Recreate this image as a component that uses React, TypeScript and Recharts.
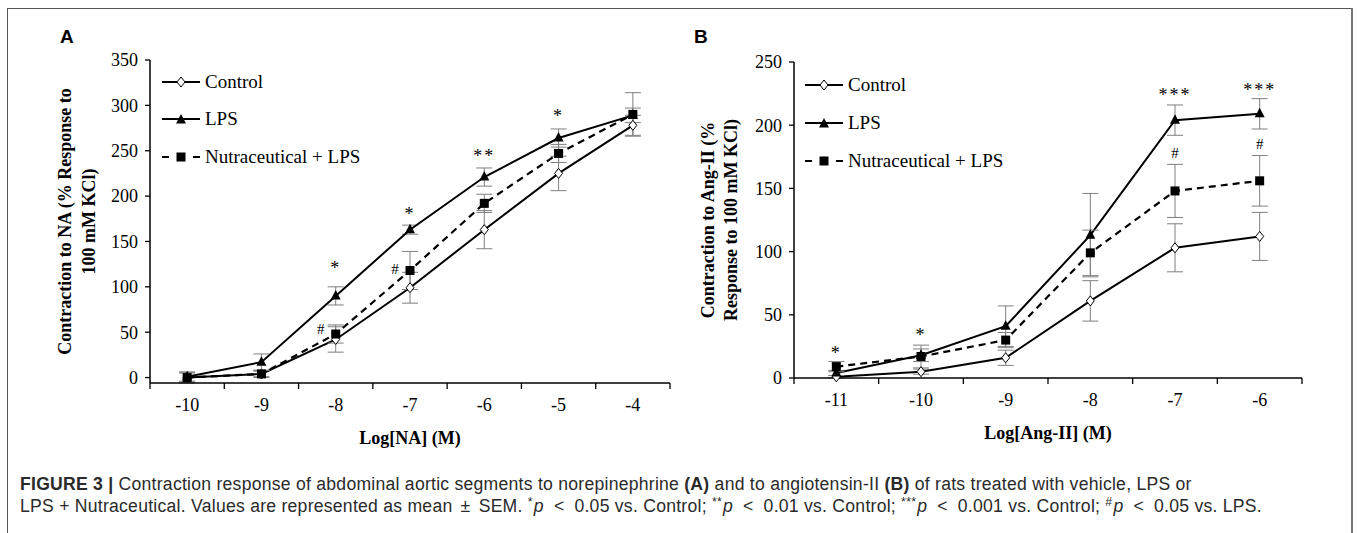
import React from 'react';
import { LineChart, Line, XAxis, YAxis, ErrorBar, ReferenceDot } from 'recharts';

const SERIF = '"Liberation Serif", "Times New Roman", serif';
const SANS = '"Liberation Sans", Arial, sans-serif';

// Panel A: noradrenaline
const naDoses = [-10, -9, -8, -7, -6, -5, -4];
const naControl = [0, 4, 42, 99, 163, 225, 278];
const naControlErr = [5, 3, 14, 17, 21, 19, 11];
const naLps = [1, 17, 90, 163, 221, 264, 289];
const naLpsErr = [5, 9, 10, 5, 10, 10, 8];
const naNutra = [0, 4, 48, 118, 192, 247, 290];
const naNutraErr = [6, 4, 10, 21, 10, 10, 24];
const naTicks = [0, 50, 100, 150, 200, 250, 300, 350];
const naMarks = [
  { x: -8, y: 124, text: '*', side: 'center' },
  { x: -7, y: 184, text: '*', side: 'center' },
  { x: -6, y: 247, text: '**', side: 'center' },
  { x: -5, y: 292, text: '*', side: 'center' },
  { x: -8, y: 53, text: '#', side: 'left' },
  { x: -7, y: 120, text: '#', side: 'left' },
];

// Panel B: angiotensin II
const angDoses = [-11, -10, -9, -8, -7, -6];
const angControl = [1, 5, 16, 61, 103, 112];
const angControlErr = [1, 2, 6, 16, 19, 19];
const angLps = [4, 18, 41, 113, 204, 209];
const angLpsErr = [2, 5, 16, 33, 12, 12];
const angNutra = [9, 17, 30, 99, 148, 156];
const angNutraErr = [4, 9, 6, 18, 21, 20];
const angTicks = [0, 50, 100, 150, 200, 250];
const angMarks = [
  { x: -11, y: 22, text: '*', side: 'center' },
  { x: -10, y: 36, text: '*', side: 'center' },
  { x: -7, y: 226, text: '***', side: 'center' },
  { x: -6, y: 230, text: '***', side: 'center' },
  { x: -7, y: 178, text: '#', side: 'center' },
  { x: -6, y: 185, text: '#', side: 'center' },
];

const legendNames = ['Control', 'LPS', 'Nutraceutical + LPS'];

function buildRows(doses, c, ce, l, le, n, ne) {
  return doses.map((d, i) => ({
    dose: d,
    control: c[i],
    controlErr: ce[i],
    lps: l[i],
    lpsErr: le[i],
    nutra: n[i],
    nutraErr: ne[i],
  }));
}

const naRows = buildRows(naDoses, naControl, naControlErr, naLps, naLpsErr, naNutra, naNutraErr);
const angRows = buildRows(angDoses, angControl, angControlErr, angLps, angLpsErr, angNutra, angNutraErr);

// category centres for labels, category edges for tick marks
function catTicks(doses) {
  const t = [];
  doses.forEach((d) => {
    t.push(d - 0.5);
    t.push(d);
  });
  t.push(doses[doses.length - 1] + 0.5);
  return t;
}

const Diamond = (p: any) => {
  const { cx, cy } = p;
  if (cx == null || cy == null) return null;
  return (
    <path
      d={`M${cx},${cy - 5}L${cx + 4},${cy}L${cx},${cy + 5}L${cx - 4},${cy}Z`}
      fill="#fff"
      stroke="#000"
      strokeWidth={1}
    />
  );
};

const Triangle = (p: any) => {
  const { cx, cy } = p;
  if (cx == null || cy == null) return null;
  return <path d={`M${cx},${cy - 6}L${cx + 5},${cy + 3.5}L${cx - 5},${cy + 3.5}Z`} fill="#000" />;
};

const Square = (p: any) => {
  const { cx, cy } = p;
  if (cx == null || cy == null) return null;
  return <rect x={cx - 4.5} y={cy - 4.5} width={9} height={9} fill="#000" />;
};

const CatTick = (props: any) => {
  const { x, y, payload } = props;
  const v = payload.value;
  if (Number.isInteger(v)) {
    return (
      <text x={x} y={y + 28} textAnchor="middle" fontFamily={SERIF} fontSize={18} fill="#000">
        {String(v)}
      </text>
    );
  }
  return <line x1={x} y1={y} x2={x} y2={y + 6} stroke="#000" strokeWidth={1.3} />;
};

const YTitle = (props: any) => {
  const { viewBox, lines, xs } = props;
  const cy = viewBox.y + viewBox.height / 2;
  return (
    <g>
      {lines.map((t, i) => (
        <text
          key={i}
          transform={`translate(${xs[i]},${cy}) rotate(-90)`}
          textAnchor="middle"
          dominantBaseline="central"
          fontFamily={SERIF}
          fontWeight="bold"
          fontSize={18}
          fill="#000"
        >
          {t}
        </text>
      ))}
    </g>
  );
};

const XTitle = (props: any) => {
  const { viewBox, text } = props;
  return (
    <text
      x={viewBox.x + viewBox.width / 2}
      y={viewBox.y + 61}
      textAnchor="middle"
      fontFamily={SERIF}
      fontWeight="bold"
      fontSize={18}
      fill="#000"
    >
      {text}
    </text>
  );
};

function markShape(m) {
  return (p: any) => {
    const dx = m.side === 'left' ? -15 : 0;
    const isStar = m.text.indexOf('*') >= 0;
    return (
      <text
        x={p.cx + dx}
        y={p.cy + (isStar ? 9 : 5)}
        textAnchor="middle"
        fontFamily={SERIF}
        fontSize={isStar ? 18 : 15}
        letterSpacing={isStar ? 2 : 0}
        fill="#000"
      >
        {m.text}
      </text>
    );
  };
}

const errStyle = { width: 8, stroke: '#7f7f7f', strokeWidth: 1 };

function Panel({ rows, doses, yMax, yTicks, marks, margin, yWidth, titleLines, titleXs, xTitle }) {
  const lo = doses[0] - 0.5;
  const hi = doses[doses.length - 1] + 0.5;
  return (
    <LineChart width={700} height={460} data={rows} margin={margin}>
      <XAxis
        dataKey="dose"
        type="number"
        domain={[lo, hi]}
        ticks={catTicks(doses)}
        interval={0}
        tick={<CatTick />}
        tickLine={false}
        tickSize={0}
        tickMargin={0}
        height={60}
        axisLine={{ stroke: '#000', strokeWidth: 1.5 }}
        label={<XTitle text={xTitle} />}
      />
      <YAxis
        type="number"
        domain={[0, yMax]}
        ticks={yTicks}
        interval={0}
        width={yWidth}
        tickSize={5}
        tickMargin={7}
        tick={{ fontFamily: SERIF, fontSize: 18, fill: '#000' }}
        tickLine={{ stroke: '#000', strokeWidth: 1.3 }}
        axisLine={{ stroke: '#000', strokeWidth: 1.5 }}
        label={<YTitle lines={titleLines} xs={titleXs} />}
      />
      <Line
        dataKey="control"
        stroke="#000"
        strokeWidth={2}
        dot={<Diamond />}
        activeDot={false}
        isAnimationActive={false}
      >
        <ErrorBar dataKey="controlErr" direction="y" isAnimationActive={false} {...errStyle} />
      </Line>
      <Line
        dataKey="lps"
        stroke="#000"
        strokeWidth={2}
        dot={<Triangle />}
        activeDot={false}
        isAnimationActive={false}
      >
        <ErrorBar dataKey="lpsErr" direction="y" isAnimationActive={false} {...errStyle} />
      </Line>
      <Line
        dataKey="nutra"
        stroke="#000"
        strokeWidth={2.2}
        strokeDasharray="7 5"
        dot={<Square />}
        activeDot={false}
        isAnimationActive={false}
      >
        <ErrorBar dataKey="nutraErr" direction="y" isAnimationActive={false} {...errStyle} />
      </Line>
      {marks.map((m, i) => (
        <ReferenceDot key={i} x={m.x} y={m.y} r={0} shape={markShape(m)} />
      ))}
    </LineChart>
  );
}

function LegendBox({ left, tops }) {
  const swatches = [
    <svg width={38} height={14} key="c">
      <line x1={0} y1={7} x2={38} y2={7} stroke="#000" strokeWidth={2} />
      <Diamond cx={19} cy={7} />
    </svg>,
    <svg width={38} height={14} key="l">
      <line x1={0} y1={7} x2={38} y2={7} stroke="#000" strokeWidth={2} />
      <Triangle cx={19} cy={8} />
    </svg>,
    <svg width={38} height={14} key="n">
      <line x1={0} y1={7} x2={7} y2={7} stroke="#000" strokeWidth={2} />
      <line x1={31} y1={7} x2={38} y2={7} stroke="#000" strokeWidth={2} />
      <Square cx={19} cy={7} />
    </svg>,
  ];
  return (
    <>
      {legendNames.map((name, i) => (
        <div
          key={name}
          style={{
            position: 'absolute',
            left,
            top: tops[i] - 12,
            height: 24,
            display: 'flex',
            alignItems: 'center',
            whiteSpace: 'nowrap',
            fontFamily: SERIF,
            fontSize: 19,
            color: '#000',
          }}
        >
          {swatches[i]}
          <span style={{ marginLeft: 5 }}>{name}</span>
        </div>
      ))}
    </>
  );
}

const supStyle: React.CSSProperties = { fontSize: '0.7em', position: 'relative', top: '-0.45em', marginRight: 1 };
const opStyle: React.CSSProperties = { margin: '0 10px' };

function PVal({ stars, cmp }) {
  return (
    <>
      <span style={supStyle}>{stars}</span>
      <i>p</i>
      <span style={opStyle}>&lt;</span>
      {cmp}
    </>
  );
}

export default function App() {
  return (
    <div style={{ position: 'absolute', left: 0, top: 0, width: 1358, height: 533, overflow: 'hidden', background: '#fff' }}>
      <div
        style={{
          position: 'absolute',
          left: 7,
          top: 8,
          width: 1346,
          height: 600,
          borderLeft: '1px solid #555',
          borderTop: '1px solid #555',
          borderRight: '2px solid #777',
          boxSizing: 'border-box',
        }}
      />
      <div style={{ position: 'absolute', left: 60, top: 26, fontFamily: SANS, fontWeight: 'bold', fontSize: 19 }}>A</div>
      <div style={{ position: 'absolute', left: 694, top: 26, fontFamily: SANS, fontWeight: 'bold', fontSize: 19 }}>B</div>
      <div style={{ position: 'absolute', left: 0, top: 0 }}>
        <Panel
          rows={naRows}
          doses={naDoses}
          yMax={350}
          yTicks={naTicks}
          marks={naMarks}
          margin={{ top: 60, right: 30, bottom: 17, left: 0 }}
          yWidth={150}
          titleLines={['Contraction to NA (% Response to', '100 mM KCl)']}
          titleXs={[65, 89]}
          xTitle="Log[NA] (M)"
        />
      </div>
      <div style={{ position: 'absolute', left: 650, top: 0 }}>
        <Panel
          rows={angRows}
          doses={angDoses}
          yMax={250}
          yTicks={angTicks}
          marks={angMarks}
          margin={{ top: 62, right: 48, bottom: 22, left: 0 }}
          yWidth={144}
          titleLines={['Contraction to Ang-II (%', 'Response to 100 mM KCl)']}
          titleXs={[58, 81]}
          xTitle="Log[Ang-II] (M)"
        />
      </div>
      <LegendBox left={162} tops={[82, 119, 157]} />
      <LegendBox left={805} tops={[85, 123, 161]} />
      <div
        style={{
          position: 'absolute',
          left: 20,
          top: 473,
          fontFamily: SANS,
          fontSize: 17.6,
          letterSpacing: 0.25,
          lineHeight: '22px',
          color: '#2a2a2a',
          whiteSpace: 'nowrap',
        }}
      >
        <div>
          <b>FIGURE 3 |</b> Contraction response of abdominal aortic segments to norepinephrine <b>(A)</b> and to
          angiotensin-II <b>(B)</b> of rats treated with vehicle, LPS or
        </div>
        <div>
          LPS + Nutraceutical. Values are represented as mean <span style={{ margin: '0 3px' }}>±</span> SEM.{' '}
          <PVal stars="*" cmp="0.05 vs. Control; " />
          <PVal stars="**" cmp="0.01 vs. Control; " />
          <PVal stars="***" cmp="0.001 vs. Control; " />
          <PVal stars="#" cmp="0.05 vs. LPS." />
        </div>
      </div>
    </div>
  );
}
